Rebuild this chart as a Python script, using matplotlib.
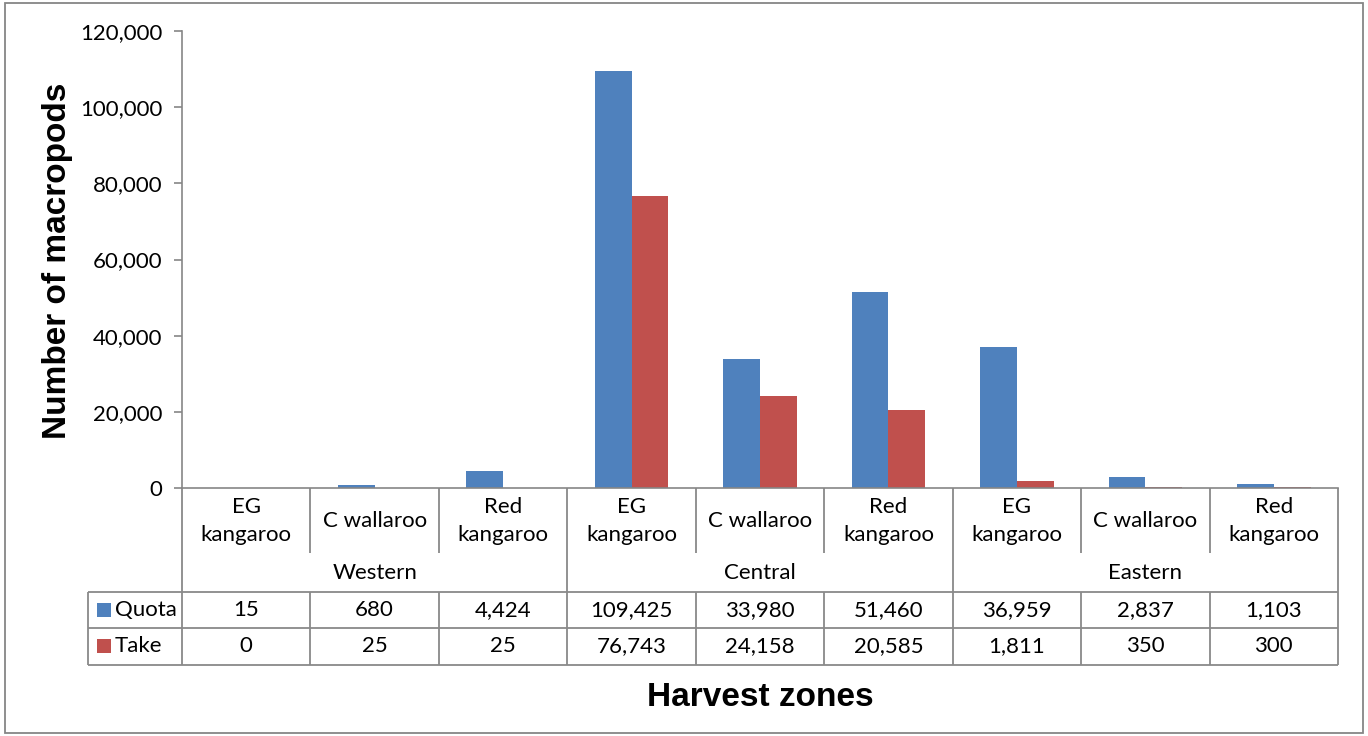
import matplotlib
matplotlib.use('Agg')
import matplotlib.pyplot as plt
import matplotlib.transforms as mtransforms
from matplotlib.patches import Rectangle
from matplotlib.ticker import FuncFormatter
import numpy as np

# Data
zones = ['Western', 'Central', 'Eastern']
species = ['EG\nkangaroo', 'C wallaroo', 'Red\nkangaroo']
quota = [15, 680, 4424, 109425, 33980, 51460, 36959, 2837, 1103]
take = [0, 25, 25, 76743, 24158, 20585, 1811, 350, 300]
series_names = ['Quota', 'Take']

colors = ['#4F81BD', '#C0504D']
grid_col = '#898989'
body_font = 'Lato'
label_font = 'Liberation Sans'
fs = 16

W, H = 1368, 736
fig = plt.figure(figsize=(W / 100, H / 100), dpi=100)

# plot area in pixels
x0, x1, y_top, y_zero = 182, 1338, 31, 488
ax = fig.add_axes([x0 / W, 1 - y_zero / H, (x1 - x0) / W, (y_zero - y_top) / H])

n = len(quota)
x = np.arange(n) + 0.5
bw = 0.286
ax.bar(x - bw / 2, quota, width=bw, color=colors[0], label=series_names[0])
ax.bar(x + bw / 2, take, width=bw, color=colors[1], label=series_names[1])

ax.set_xlim(0, n)
ax.set_ylim(0, 120000)
ax.set_yticks(np.arange(0, 120001, 20000))
ax.yaxis.set_major_formatter(FuncFormatter(lambda v, p: f'{int(v):,}'))
ax.set_xticks([])
for s in ['top', 'right']:
    ax.spines[s].set_visible(False)
for s in ['left', 'bottom']:
    ax.spines[s].set_color('#868686')
    ax.spines[s].set_linewidth(1.2)
ax.tick_params(axis='y', direction='out', length=6, color='#868686', width=1.2,
               labelsize=fs, pad=8)
for lab in ax.get_yticklabels():
    lab.set_family(body_font)

# axis titles
fig.text(58 / W, 1 - 261 / H, 'Number of macropods', rotation=90, ha='center', va='center',
         fontsize=24, fontweight='bold', family=label_font)
fig.text(760 / W, 1 - 698 / H, 'Harvest zones', ha='center', va='center',
         fontsize=24, fontweight='bold', family=label_font)

# table below axis: x in data units, y in pixels -> axes fraction
trans = mtransforms.blended_transform_factory(ax.transData, ax.transAxes)


def yp(pix):
    return (y_zero - pix) / (y_zero - y_top)


def line(xs, ys_pix):
    ax.plot(xs, [yp(v) for v in ys_pix], color=grid_col, lw=1.3, transform=trans,
            clip_on=False, solid_capstyle='butt')


x_left = (88 - x0) / ((x1 - x0) / n)
row_cat, row_grp, row_q, row_bottom = 553, 592, 628, 665

# vertical lines
for i in range(n + 1):
    if i % 3 == 0:
        line([i, i], [y_zero, row_bottom])
    else:
        line([i, i], [y_zero, row_cat])
        line([i, i], [row_grp, row_bottom])
line([x_left, x_left], [row_grp, row_bottom])
# horizontal lines
for r in [row_grp, row_q, row_bottom]:
    line([x_left, n], [r, r])

# category labels
for i in range(n):
    ax.text(x[i], yp(521), species[i % 3], transform=trans, ha='center', va='center',
            fontsize=fs, family=body_font, linespacing=1.5)
for g, z in enumerate(zones):
    ax.text(g * 3 + 1.5, yp(573), z, transform=trans, ha='center', va='center',
            fontsize=fs, family=body_font)

# data rows
for r, (vals, name, c) in enumerate(zip([quota, take], series_names, colors)):
    yc = [610, 646][r]
    for i in range(n):
        ax.text(x[i], yp(yc), f'{vals[i]:,}', transform=trans, ha='center', va='center',
                fontsize=fs, family=body_font)
    # legend key
    fig.patches.append(Rectangle((97 / W, 1 - (yc + 7) / H), 14 / W, 14 / H,
                                 transform=fig.transFigure, facecolor=c, edgecolor='none'))
    fig.text(115 / W, 1 - yc / H, name, ha='left', va='center', fontsize=fs, family=body_font)

# outer border
fig.patches.append(Rectangle((5 / W, 1 - 733 / H), 1358 / W, 730 / H, transform=fig.transFigure,
                             facecolor='none', edgecolor='#868686', lw=1.3))

fig.savefig('out.png', dpi=100)
